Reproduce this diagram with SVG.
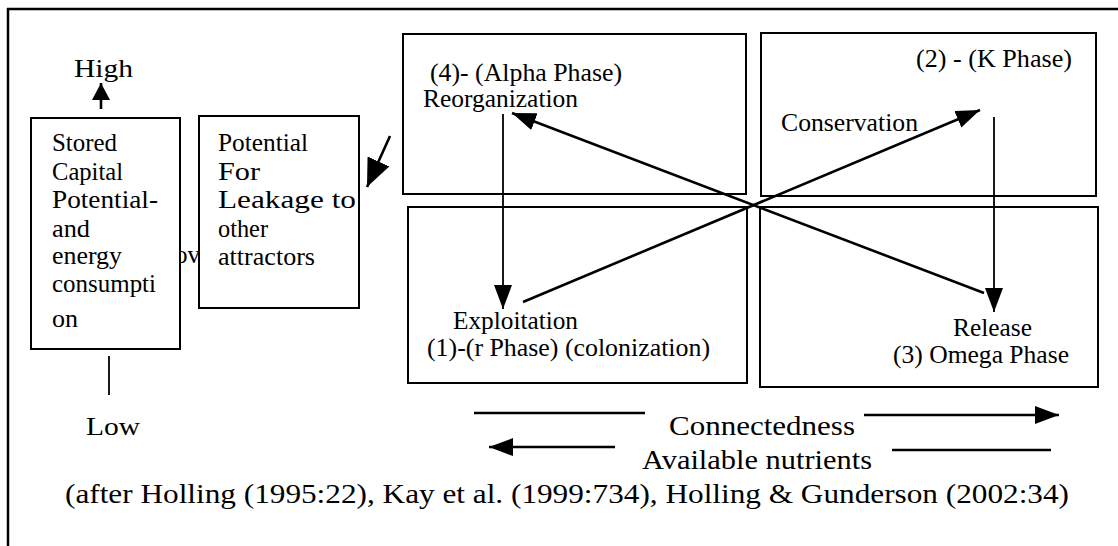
<svg xmlns="http://www.w3.org/2000/svg" width="1118" height="546" viewBox="0 0 1118 546">
<style>
text{font-family:"Liberation Serif","Times New Roman",serif;fill:#000}
.t{font-size:25px}
.b{font-size:27px}
.box{fill:#fff;stroke:#000;stroke-width:2}
.ln{stroke:#000;stroke-width:2.6;fill:none}
.thin{stroke:#000;stroke-width:1.8;fill:none}
</style>
<defs>
<marker id="ah" markerUnits="userSpaceOnUse" markerWidth="26" markerHeight="20" refX="24" refY="9" orient="auto">
<path d="M0,0 L24,9 L0,18 z" fill="#000"/>
</marker>
<marker id="ahs" markerUnits="userSpaceOnUse" markerWidth="20" markerHeight="20" refX="17" refY="9" orient="auto">
<path d="M0,0 L17,9 L0,18 z" fill="#000"/>
</marker>
<marker id="ahl" markerUnits="userSpaceOnUse" markerWidth="30" markerHeight="26" refX="28" refY="12" orient="auto">
<path d="M0,0 L28,12 L0,24 z" fill="#000"/>
</marker>
<clipPath id="ovclip"><rect x="181" y="240" width="17" height="30"/></clipPath>
</defs>

<g id="frame">
<line x1="7" y1="9" x2="1118" y2="9" stroke="#000" stroke-width="2.5"/>
<line x1="8" y1="8" x2="8" y2="546" stroke="#000" stroke-width="2.5"/>
</g>

<g id="hidden-label">
<text class="t" x="175" y="263" clip-path="url(#ovclip)">ov</text>
</g>

<g id="axis-high">
<text class="t" x="74" y="77" textLength="59" lengthAdjust="spacingAndGlyphs">High</text>
</g>
<g id="axis-low">
<text class="t" x="86" y="435" textLength="54" lengthAdjust="spacingAndGlyphs">Low</text>
</g>

<g id="stored-capital">
<rect class="box" x="31" y="118" width="149" height="231"/>
<text class="t" x="52" y="151" textLength="65" lengthAdjust="spacingAndGlyphs">Stored</text>
<text class="t" x="52" y="180" textLength="71" lengthAdjust="spacingAndGlyphs">Capital</text>
<text class="t" x="52" y="208" textLength="106" lengthAdjust="spacingAndGlyphs">Potential-</text>
<text class="t" x="52" y="237" textLength="38" lengthAdjust="spacingAndGlyphs">and</text>
<text class="t" x="52" y="264" textLength="70" lengthAdjust="spacingAndGlyphs">energy</text>
<text class="t" x="52" y="292" textLength="104" lengthAdjust="spacingAndGlyphs">consumpti</text>
<text class="t" x="52" y="327" textLength="26" lengthAdjust="spacingAndGlyphs">on</text>
</g>

<g id="leakage">
<rect class="box" x="199" y="116" width="160" height="192"/>
<text class="t" x="218" y="151" textLength="90" lengthAdjust="spacingAndGlyphs">Potential</text>
<text class="t" x="218" y="180" textLength="42" lengthAdjust="spacingAndGlyphs">For</text>
<text class="t" x="218" y="208" textLength="138" lengthAdjust="spacingAndGlyphs">Leakage to</text>
<text class="t" x="218" y="237" textLength="50" lengthAdjust="spacingAndGlyphs">other</text>
<text class="t" x="218" y="265" textLength="97" lengthAdjust="spacingAndGlyphs">attractors</text>
</g>

<g id="alpha-phase">
<rect class="box" x="403" y="34" width="343" height="160"/>
<text class="t" x="430" y="81" textLength="192" lengthAdjust="spacingAndGlyphs">(4)- (Alpha Phase)</text>
<text class="t" x="423" y="107" textLength="155" lengthAdjust="spacingAndGlyphs">Reorganization</text>
</g>

<g id="k-phase">
<rect class="box" x="761" y="33" width="335" height="163"/>
<text class="t" x="916" y="67" textLength="156" lengthAdjust="spacingAndGlyphs">(2) - (K Phase)</text>
<text class="t" x="781" y="131" textLength="137" lengthAdjust="spacingAndGlyphs">Conservation</text>
</g>

<g id="r-phase">
<rect class="box" x="408" y="207" width="339" height="176"/>
<text class="t" x="453" y="329" textLength="125" lengthAdjust="spacingAndGlyphs">Exploitation</text>
<text class="t" x="427" y="356" textLength="283" lengthAdjust="spacingAndGlyphs">(1)-(r Phase) (colonization)</text>
</g>

<g id="omega-phase">
<rect class="box" x="760" y="207" width="338" height="180"/>
<text class="t" x="953" y="336" textLength="79" lengthAdjust="spacingAndGlyphs">Release</text>
<text class="t" x="893" y="363" textLength="176" lengthAdjust="spacingAndGlyphs">(3) Omega Phase</text>
</g>

<g id="connectors">
<line class="ln" x1="101" y1="109" x2="101" y2="83" marker-end="url(#ahs)"/>
<line class="thin" x1="109" y1="356" x2="109" y2="395"/>
<line class="ln" x1="390" y1="136" x2="367" y2="187" marker-end="url(#ahl)"/>
<line class="thin" x1="503" y1="114" x2="503" y2="309" marker-end="url(#ah)"/>
<line class="thin" x1="994" y1="117" x2="994" y2="312" marker-end="url(#ah)"/>
<line class="ln" x1="523" y1="302" x2="980" y2="110" marker-end="url(#ah)"/>
<line class="ln" x1="984" y1="293" x2="512" y2="113" marker-end="url(#ah)"/>
<line class="ln" x1="474" y1="413" x2="645" y2="413"/>
<line class="ln" x1="864" y1="415" x2="1059" y2="415" marker-end="url(#ah)"/>
<line class="ln" x1="615" y1="447" x2="489" y2="447" marker-end="url(#ah)"/>
<line class="ln" x1="892" y1="450" x2="1051" y2="450"/>
</g>

<g id="axis-labels">
<text class="b" x="669" y="435" textLength="186" lengthAdjust="spacingAndGlyphs">Connectedness</text>
<text class="b" x="642" y="469" textLength="230" lengthAdjust="spacingAndGlyphs">Available nutrients</text>
<text class="b" x="65" y="503" textLength="1004" lengthAdjust="spacingAndGlyphs">(after Holling (1995:22), Kay et al. (1999:734), Holling &amp; Gunderson (2002:34)</text>
</g>
</svg>
